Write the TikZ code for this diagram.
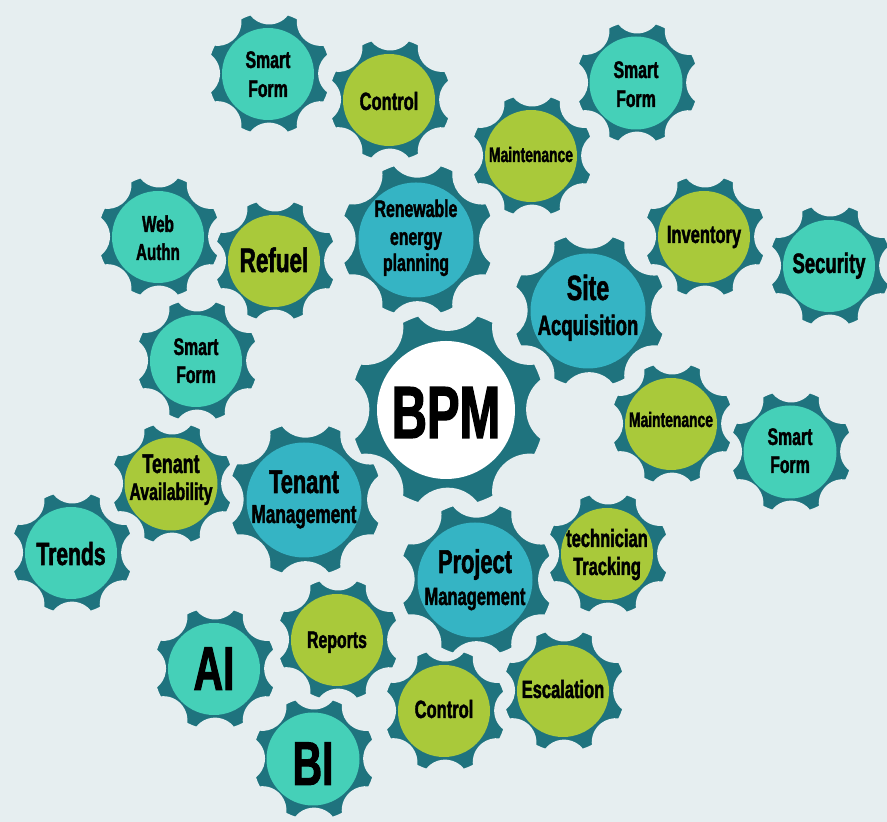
\documentclass[tikz,border=0pt]{standalone}
\usepackage{fontspec}
\newfontfamily\gf{Liberation Sans}[FakeStretch=0.66, FakeBold=1.6]
\definecolor{bgc}{HTML}{E6EEF0}
\definecolor{gearteal}{HTML}{1F737E}
\definecolor{aquaC}{HTML}{45D0B8}
\definecolor{cyanC}{HTML}{35B4C4}
\definecolor{greenC}{HTML}{A9C93A}
\newcommand\mkgear[6]{%
  \fill[gearbody] ([shift={(#2,#3)}]17.5:#4pt)
    \foreach \k in {0,...,7}{
      arc[start angle=45*\k+17.5, end angle=45*\k+27.5, radius=#4pt]
      arc[start angle=45*\k+277.5, end angle=45*\k+172.5, radius=0.37*#4pt]
    } -- cycle;
  \node[innerdisk, fill=#6, minimum size=2*#5pt] (#1) at (#2,#3) {};
}
\tikzset{
  gearbody/.style={fill=gearteal, draw=bgc, line width=1.6pt},
  innerdisk/.style={circle, inner sep=0pt, draw=none},
  gtxt/.style={anchor=base, inner sep=0pt, text=black, font=\gf\bfseries\fontsize{#1}{#1}\selectfont},
}
\begin{document}
\begin{tikzpicture}[x=1pt,y=1pt]
\useasboundingbox (0,0) rectangle (887,822);
\fill[bgc] (0,0) rectangle (887,822);
% small gears
\mkgear{sf1}{268}{748}{63}{46}{aquaC}
\mkgear{ctl1}{389}{722}{63}{46}{greenC}
\mkgear{sf2}{636}{739}{63}{46.5}{aquaC}
\mkgear{mnt1}{531}{666}{63}{46}{greenC}
\mkgear{web}{158}{585}{63}{46}{aquaC}
\mkgear{ref}{274}{561}{63}{46}{greenC}
\mkgear{sf3}{196}{461}{63}{46}{aquaC}
\mkgear{inv}{704}{585}{63}{46}{greenC}
\mkgear{sec}{829}{556}{63}{46}{aquaC}
\mkgear{mnt2}{671}{398}{63}{46}{greenC}
\mkgear{sf4}{790}{370}{63}{46.5}{aquaC}
\mkgear{ta}{171}{338}{63}{46.5}{greenC}
\mkgear{tr}{71}{269}{63}{46}{aquaC}
\mkgear{tech}{607}{268}{63}{46}{greenC}
\mkgear{rep}{337}{182}{63}{46}{greenC}
\mkgear{ai}{214}{153}{63}{46}{aquaC}
\mkgear{bi}{313}{63}{63}{46.5}{aquaC}
\mkgear{ctl2}{444}{111}{63}{46}{greenC}
\mkgear{esc}{563}{131}{63}{46}{greenC}
% large gears
\mkgear{ren}{416}{582}{79}{57.5}{cyanC}
\mkgear{site}{588}{511}{79}{57.5}{cyanC}
\mkgear{tm}{304}{322}{79}{57.5}{cyanC}
\mkgear{pm}{475}{242}{79}{57.5}{cyanC}
\mkgear{bpm}{446}{412}{100}{69}{white}
% texts
\node[gtxt=24] (t1a) at (268,754) {Smart};
\node[gtxt=24] (t1b) at (268,725) {Form};
\node[gtxt=25] (t2) at (389,712) {Control};
\node[gtxt=24] (t4a) at (636,744) {Smart};
\node[gtxt=24] (t4b) at (636,715) {Form};
\node[gtxt=21] (t3) at (531,660) {Maintenance};
\node[gtxt=23] (t5a) at (158,590) {Web};
\node[gtxt=23] (t5b) at (158,562) {Authn};
\node[gtxt=34] (t6) at (274,550) {Refuel};
\node[gtxt=24] (t7a) at (196,467) {Smart};
\node[gtxt=24] (t7b) at (196,439) {Form};
\node[gtxt=24] (t8a) at (416,605) {Renewable};
\node[gtxt=24] (t8b) at (416,577) {energy};
\node[gtxt=24] (t8c) at (416,551) {planning};
\node[gtxt=35] (t9a) at (588,522) {Site};
\node[gtxt=28] (t9b) at (588,487) {Acquisition};
\node[gtxt=25] (t10) at (704,579) {Inventory};
\node[gtxt=28] (t11) at (829,549) {Security};
\node[gtxt=21] (t12) at (671,395) {Maintenance};
\node[gtxt=24] (t13a) at (790,377) {Smart};
\node[gtxt=24] (t13b) at (790,349) {Form};
\node[gtxt=74] (t14) at (446,384) {BPM};
\node[gtxt=27] (t15a) at (171,349) {Tenant};
\node[gtxt=24] (t15b) at (171,322) {Availability};
\node[gtxt=33] (t16a) at (304,329) {Tenant};
\node[gtxt=26] (t16b) at (304,299) {Management};
\node[gtxt=32] (t17) at (71,257) {Trends};
\node[gtxt=33] (t18a) at (475,249) {Project};
\node[gtxt=25] (t18b) at (475,217) {Management};
\node[gtxt=25] (t19a) at (607,275) {technician};
\node[gtxt=25] (t19b) at (607,247) {Tracking};
\node[gtxt=24] (t20) at (337,174) {Reports};
\node[gtxt=62] (t21) at (214,132) {AI};
\node[gtxt=62] (t22) at (313,37) {BI};
\node[gtxt=25] (t23) at (444,104) {Control};
\node[gtxt=25] (t24) at (563,124) {Escalation};
\end{tikzpicture}
\end{document}
